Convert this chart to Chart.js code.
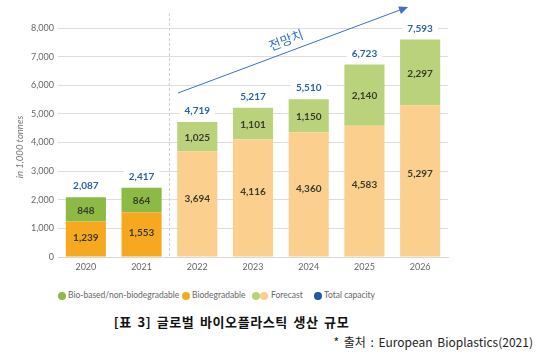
<!DOCTYPE html>
<html>
<head>
<meta charset="utf-8">
<script src="https://cdn.jsdelivr.net/npm/chart.js@4"></script>
<style>
  body { margin: 0; background: #fff; width: 545px; height: 360px; position: relative; overflow: hidden; }
  #wrap { position: absolute; left: 0; top: 0; width: 545px; height: 280px; }
  .leg { position: absolute; top: 290px; font: 8.5px Lato, sans-serif; color: #666; white-space: nowrap; }
  .dot { position: absolute; top: 292px; width: 8px; height: 8px; border-radius: 50%; }
  #caption { position: absolute; left: 0; width: 463px; top: 312px; text-align: center; font: bold 13px "Noto Sans CJK KR", sans-serif; letter-spacing: 0.6px; word-spacing: 2px; color: #111; }
  #source { position: absolute; right: 12px; top: 333px; font: 12px "Noto Sans CJK KR", sans-serif; word-spacing: 2px; color: #222; }
</style>
</head>
<body>
<div id="wrap"><canvas id="plot"></canvas></div>

<div class="dot" style="left:58px;background:#8cba45"></div>
<div class="leg" style="left:68px">Bio-based/non-biodegradable</div>
<div class="dot" style="left:182px;background:#f6a91f"></div>
<div class="leg" style="left:192px">Biodegradable</div>
<div class="dot" style="left:252px;background:#bad27c"></div>
<div class="dot" style="left:260px;background:#fbd08e"></div>
<div class="leg" style="left:271px">Forecast</div>
<div class="dot" style="left:314px;background:#1c5aa3"></div>
<div class="leg" style="left:324px">Total capacity</div>

<div id="caption">[표 3] 글로벌 바이오플라스틱 생산 규모</div>
<div id="source">* 출처 : European Bioplastics(2021)</div>

<script>
const years = ['2020', '2021', '2022', '2023', '2024', '2025', '2026']
const biodegradable = [1239, 1553, 3694, 4116, 4360, 4583, 5297]
const nonBiodegradable = [848, 864, 1025, 1101, 1150, 2140, 2297]
const totals = [2087, 2417, 4719, 5217, 5510, 6723, 7593]
const yTicks = [0, 1000, 2000, 3000, 4000, 5000, 6000, 7000, 8000]
const forecastFrom = 2

const orange = years.map((y, i) => i < forecastFrom ? '#f6a91f' : '#fbd08e')
const green = years.map((y, i) => i < forecastFrom ? '#8cba45' : '#bad27c')

const fmt = v => v.toLocaleString('en-US')

const overlay = {
    id: 'overlay',
    beforeDatasetsDraw(chart) {
        const ctx = chart.ctx
        const x = chart.scales.x
        const y = chart.scales.y
        // forecast separator
        const sx = (x.getPixelForValue(forecastFrom - 1) + x.getPixelForValue(forecastFrom)) / 2
        ctx.save()
        ctx.strokeStyle = '#cfcfcf'
        ctx.lineWidth = 1
        ctx.setLineDash([3, 2])
        ctx.beginPath()
        ctx.moveTo(sx, 13)
        ctx.lineTo(sx, y.getPixelForValue(0))
        ctx.stroke()
        ctx.restore()
    },
    afterDatasetsDraw(chart) {
        const ctx = chart.ctx
        const x = chart.scales.x
        const y = chart.scales.y
        ctx.save()
        ctx.textAlign = 'center'
        ctx.textBaseline = 'middle'
        ctx.font = 'bold 10px Lato, sans-serif'
        years.forEach((yr, i) => {
            const cx = x.getPixelForValue(i)
            const y0 = y.getPixelForValue(0)
            const y1 = y.getPixelForValue(biodegradable[i])
            const y2 = y.getPixelForValue(biodegradable[i] + nonBiodegradable[i])
            ctx.fillStyle = '#3b3a2c'
            ctx.fillText(fmt(biodegradable[i]), cx, y0 - (y0 - y1) * 0.55)
            ctx.fillText(fmt(nonBiodegradable[i]), cx, (y1 + y2) / 2 + 1)
            // total label with white knockout
            const ty = y.getPixelForValue(totals[i]) - 11
            const w = ctx.measureText(fmt(totals[i])).width
            ctx.fillStyle = '#fff'
            ctx.fillRect(cx - w / 2 - 5, ty - 6, w + 10, 12)
            ctx.fillStyle = '#2a62aa'
            ctx.fillText(fmt(totals[i]), cx, ty)
        })
        // y axis unit
        ctx.save()
        ctx.translate(20, 147)
        ctx.rotate(-Math.PI / 2)
        ctx.font = 'italic 9.5px Lato, sans-serif'
        ctx.fillStyle = '#777'
        ctx.fillText('in 1,000 tonnes', 0, 0)
        ctx.restore()
        // forecast arrow
        const ax0 = 178, ay0 = 93, ax1 = 408, ay1 = 7
        const ang = Math.atan2(ay1 - ay0, ax1 - ax0)
        ctx.strokeStyle = '#3d6fc8'
        ctx.fillStyle = '#3d6fc8'
        ctx.lineWidth = 1
        ctx.beginPath()
        ctx.moveTo(ax0, ay0)
        ctx.lineTo(ax1 - 6 * Math.cos(ang), ay1 - 6 * Math.sin(ang))
        ctx.stroke()
        ctx.beginPath()
        ctx.moveTo(ax1, ay1)
        ctx.lineTo(ax1 - 9 * Math.cos(ang) + 4 * Math.sin(ang), ay1 - 9 * Math.sin(ang) - 4 * Math.cos(ang))
        ctx.lineTo(ax1 - 9 * Math.cos(ang) - 4 * Math.sin(ang), ay1 - 9 * Math.sin(ang) + 4 * Math.cos(ang))
        ctx.closePath()
        ctx.fill()
        ctx.translate(286, 40)
        ctx.rotate(ang)
        ctx.font = '13px "Noto Sans CJK KR", sans-serif'
        ctx.fillStyle = '#2f74c6'
        ctx.fillText('전망치', 0, 0)
        ctx.restore()
    }
}

const chart = new Chart(document.getElementById('plot'), {
    type: 'bar',
    data: {
        labels: years,
        datasets: [
            { label: 'Biodegradable', data: biodegradable, backgroundColor: orange },
            { label: 'Bio-based/non-biodegradable', data: nonBiodegradable, backgroundColor: green }
        ]
    },
    options: {
        responsive: true,
        maintainAspectRatio: false,
        animation: false,
        datasets: { bar: { categoryPercentage: 0.72, barPercentage: 1 } },
        layout: { padding: { left: 0, right: 97, top: 28, bottom: 0 } },
        plugins: {
            legend: { display: false },
            tooltip: { enabled: false }
        },
        scales: {
            x: {
                stacked: true,
                grid: { display: false, drawTicks: false },
                border: { color: '#d8d8d8' },
                ticks: { color: '#666', font: { family: 'Lato', size: 9 }, padding: 5 },
                afterFit(scale) { scale.height = 23 }
            },
            y: {
                stacked: true,
                min: 0,
                max: 8000,
                afterBuildTicks(scale) { scale.ticks = yTicks.map(v => ({ value: v })) },
                grid: { color: '#dddddd', drawTicks: false },
                border: { display: false },
                ticks: {
                    color: '#666',
                    font: { family: 'Lato', size: 9 },
                    padding: 4,
                    callback: v => fmt(v)
                },
                afterFit(scale) { scale.width = 58 }
            }
        }
    },
    plugins: [overlay]
})
</script>
</body>
</html>
